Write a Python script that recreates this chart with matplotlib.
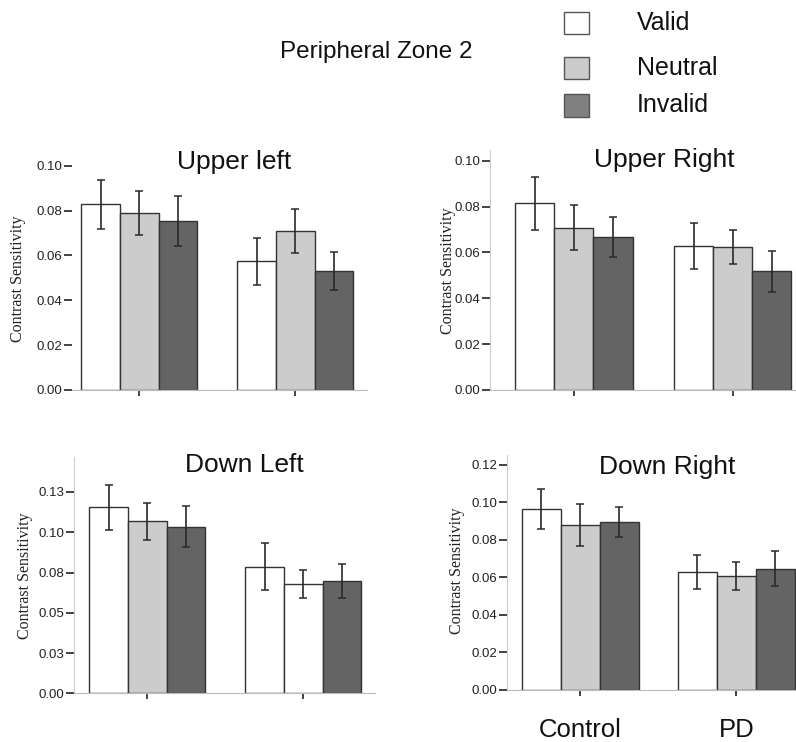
import matplotlib
matplotlib.use("Agg")
import matplotlib.pyplot as plt
from matplotlib.patches import Rectangle
import numpy as np

# ---------------- data ----------------
groups = ["Control", "PD"]
conditions = ["Valid", "Neutral", "Invalid"]
panel_titles = ["Upper left", "Upper Right", "Down Left", "Down Right"]

# means [condition][group]
ul_means = [[0.0828, 0.0574], [0.0789, 0.0710], [0.0752, 0.0530]]
ul_errs = [[0.0108, 0.0104], [0.0100, 0.0098], [0.0111, 0.0084]]

ur_means = [[0.0814, 0.0628], [0.0708, 0.0624], [0.0667, 0.0517]]
ur_errs = [[0.0114, 0.0102], [0.0098, 0.0073], [0.0087, 0.0089]]

dl_means = [[0.1155, 0.0787], [0.1068, 0.0679], [0.1035, 0.0696]]
dl_errs = [[0.0140, 0.0147], [0.0114, 0.0088], [0.0126, 0.0105]]

dr_means = [[0.0964, 0.0629], [0.0882, 0.0608], [0.0894, 0.0647]]
dr_errs = [[0.0107, 0.0091], [0.0112, 0.0077], [0.0080, 0.0093]]

ul_ticks = [0.00, 0.02, 0.04, 0.06, 0.08, 0.10]
ul_ticklabels = ["0.00", "0.02", "0.04", "0.06", "0.08", "0.10"]
ur_ticks = [0.00, 0.02, 0.04, 0.06, 0.08, 0.10]
ur_ticklabels = ["0.00", "0.02", "0.04", "0.06", "0.08", "0.10"]
dl_ticks = [0.000, 0.025, 0.050, 0.075, 0.100, 0.125]
dl_ticklabels = ["0.00", "0.03", "0.05", "0.08", "0.10", "0.13"]
dr_ticks = [0.00, 0.02, 0.04, 0.06, 0.08, 0.10, 0.12]
dr_ticklabels = ["0.00", "0.02", "0.04", "0.06", "0.08", "0.10", "0.12"]

# ---------------- styles ----------------
fills = ["#ffffff", "#cccccc", "#646464"]
legend_fills = ["#ffffff", "#cccccc", "#808080"]
# in the Down Left panel, the PD neutral bar is drawn white
dl_fills = [["#ffffff", "#ffffff"], ["#cccccc", "#ffffff"], ["#646464", "#646464"]]

W, H = 796, 742
fig = plt.figure(figsize=(W / 100, H / 100), dpi=100)
plt.rcParams["font.family"] = ["Liberation Sans", "DejaVu Sans"]


def ax_px(l, r, t, b):
    return [l / W, 1 - b / H, (r - l) / W, (b - t) / H]


panels = [
    dict(pos=ax_px(72, 367, 150, 390), ylim=0.107, xlim=(-0.431, 1.46), w=0.247,
         means=ul_means, errs=ul_errs, ticks=ul_ticks, labels=ul_ticklabels,
         fills=[[c, c] for c in fills], spine=False, title=panel_titles[0],
         tpos=(234, 162), ypos=(18, 279)),
    dict(pos=ax_px(490, 796, 150, 390), ylim=0.1047, xlim=(-0.529, 1.399), w=0.246,
         means=ur_means, errs=ur_errs, ticks=ur_ticks, labels=ur_ticklabels,
         fills=[[c, c] for c in fills], spine=True, title=panel_titles[1],
         tpos=(664, 160), ypos=(448, 271)),
    dict(pos=ax_px(74, 375, 456.7, 693.3), ylim=0.1469, xlim=(-0.47, 1.46), w=0.248,
         means=dl_means, errs=dl_errs, ticks=dl_ticks, labels=dl_ticklabels,
         fills=dl_fills, spine=True, title=panel_titles[2],
         tpos=(244, 465), ypos=(25, 576)),
    dict(pos=ax_px(507.3, 796, 455, 690), ylim=0.1253, xlim=(-0.468, 1.383), w=0.25,
         means=dr_means, errs=dr_errs, ticks=dr_ticks, labels=dr_ticklabels,
         fills=[[c, c] for c in fills], spine=True, title=panel_titles[3],
         tpos=(667, 467), ypos=(457, 571)),
]

x = np.arange(len(groups))
for p in panels:
    ax = fig.add_axes(p["pos"])
    w = p["w"]
    for i, cond in enumerate(conditions):
        ax.bar(x + (i - 1) * w, p["means"][i], width=w, color=p["fills"][i],
               edgecolor="#333333", linewidth=1.0, zorder=2)
        ax.errorbar(x + (i - 1) * w, p["means"][i], yerr=p["errs"][i], fmt="none",
                    ecolor="#2a2a2a", elinewidth=1.2, capsize=3, capthick=1.1, zorder=3)
    ax.set_xlim(*p["xlim"])
    ax.set_ylim(0, p["ylim"])
    ax.set_yticks(p["ticks"])
    ax.set_yticklabels(p["labels"])
    ax.set_xticks(x)
    ax.set_xticklabels([])
    for s in ["top", "right"]:
        ax.spines[s].set_visible(False)
    ax.spines["bottom"].set_color("#bbbbbb")
    ax.spines["left"].set_color("#cccccc")
    ax.spines["left"].set_visible(p["spine"])
    ax.tick_params(axis="y", direction="out", length=6, width=1.2, color="#222222",
                   labelsize=9.5, labelcolor="#222222", pad=1)
    ax.tick_params(axis="x", direction="out", length=4, width=1.2, color="#222222")
    ax.patch.set_visible(False)
    fig.text(p["tpos"][0] / W, 1 - p["tpos"][1] / H, p["title"], fontsize=19,
             ha="center", va="center", color="#111111")
    fig.text(p["ypos"][0] / W, 1 - p["ypos"][1] / H, "Contrast Sensitivity",
             fontsize=11.5, rotation=90, ha="center", va="center",
             family=["Liberation Serif", "DejaVu Serif"], color="#222222")

# group labels below bottom-right panel
group_px = [580.3, 736.3]
for gx, g in zip(group_px, groups):
    fig.text(gx / W, 1 - 730 / H, g, fontsize=18.5, ha="center", va="center", color="#111111")

# main title
fig.text(376 / W, 1 - 52 / H, "Peripheral Zone 2", fontsize=17.5, ha="center", va="center",
         color="#111111")

# legend
leg_y = [(11.7, 34.3), (56.7, 79.3), (94.3, 116.7)]
for (t, b), c, lab in zip(leg_y, legend_fills, conditions):
    fig.add_artist(Rectangle((564.3 / W, 1 - b / H), 25 / W, (b - t) / H,
                             transform=fig.transFigure, facecolor=c,
                             edgecolor="#555555", linewidth=1.0))
    fig.text(636.7 / W, 1 - (t + b) / 2 / H, lab, fontsize=18, ha="left", va="center",
             color="#111111")

fig.savefig("out.png", dpi=100)
